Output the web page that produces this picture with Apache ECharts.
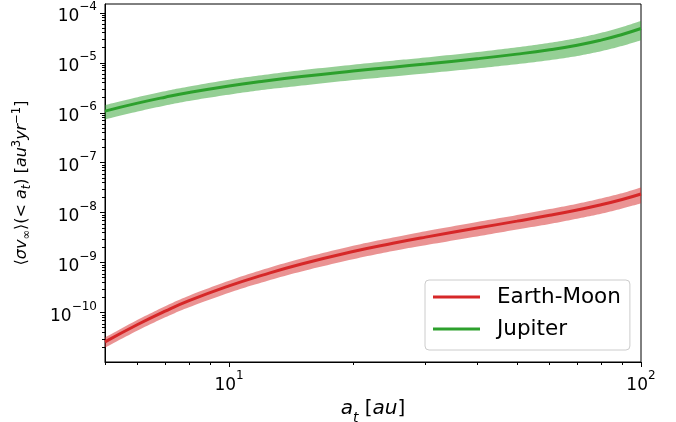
<!DOCTYPE html>
<html>
<head>
<meta charset="utf-8">
<script src="https://cdn.jsdelivr.net/npm/echarts@6/dist/echarts.min.js"></script>
<style>
  html, body { margin: 0; padding: 0; background: #fff; }
  #chart { width: 676px; height: 422px; }
</style>
</head>
<body>
<div id="chart"></div>
<script>
// Semi-major axis grid a_t [au]
const semiMajor = [5, 6, 7, 8, 10, 12, 15, 20, 25, 30, 40, 50, 60, 70, 80, 90, 100];

// Earth-Moon: mean rate and its 1-sigma envelope [au^3 / yr]
const earthMoonMean = [2.60e-11, 5.79e-11, 1.074e-10, 1.738e-10, 3.436e-10, 5.57e-10, 9.42e-10, 1.675e-9, 2.449e-9, 3.25e-9, 4.93e-9, 6.78e-9, 8.87e-9, 1.135e-8, 1.442e-8, 1.837e-8, 2.366e-8];
const earthMoonLow  = [2.00e-11, 4.40e-11, 8.06e-11, 1.286e-10, 2.508e-10, 4.01e-10, 6.69e-10, 1.173e-9, 1.714e-9, 2.243e-9, 3.35e-9, 4.61e-9, 5.94e-9, 7.60e-9, 9.52e-9, 1.212e-8, 1.538e-8];
const earthMoonHigh = [3.20e-11, 7.18e-11, 1.343e-10, 2.19e-10, 4.364e-10, 7.13e-10, 1.215e-9, 2.178e-9, 3.184e-9, 4.258e-9, 6.51e-9, 8.95e-9, 1.18e-8, 1.51e-8, 1.932e-8, 2.462e-8, 3.194e-8];

// Jupiter: mean rate and its 1-sigma envelope [au^3 / yr]
const jupiterMean = [1.08e-6, 1.556e-6, 2.05e-6, 2.54e-6, 3.44e-6, 4.24e-6, 5.30e-6, 6.82e-6, 8.17e-6, 9.44e-6, 1.205e-5, 1.49e-5, 1.82e-5, 2.24e-5, 2.84e-5, 3.69e-5, 4.85e-5];
const jupiterLow  = [0.734e-6, 1.058e-6, 1.394e-6, 1.727e-6, 2.305e-6, 2.841e-6, 3.498e-6, 4.501e-6, 5.31e-6, 6.136e-6, 7.71e-6, 9.39e-6, 1.128e-5, 1.366e-5, 1.704e-5, 2.177e-5, 2.813e-5];
const jupiterHigh = [1.426e-6, 2.054e-6, 2.706e-6, 3.353e-6, 4.575e-6, 5.639e-6, 7.102e-6, 9.139e-6, 1.103e-5, 1.274e-5, 1.639e-5, 2.041e-5, 2.512e-5, 3.114e-5, 3.976e-5, 5.203e-5, 6.887e-5];

// Axis ticks
const xMajorTicks = [10, 100];
const xMinorTicks = [5, 6, 7, 8, 9, 20, 30, 40, 50, 60, 70, 80, 90];
const yMajorTicks = [1e-10, 1e-9, 1e-8, 1e-7, 1e-6, 1e-5, 1e-4];
const yMinorTicks = [];
for (let e = -11; e <= -4; e++) {
  for (let m = 2; m <= 9; m++) yMinorTicks.push(m * Math.pow(10, e));
}

const xRange = [5, 100];
const yRange = [1.03e-11, 1.5e-4];

const RED = '#d62728';
const GREEN = '#2ca02c';
const FONT = 'DejaVu Sans';

const pairs = (ys) => semiMajor.map((x, i) => [x, ys[i]]);

function powerLabel(value) {
  const e = Math.round(Math.log10(value));
  const s = e < 0 ? '\u2212' + Math.abs(e) : String(e);
  return '{b|10}{s|' + s + '}';
}

const tickRich = {
  b: { fontFamily: FONT, fontSize: 17, color: '#000', verticalAlign: 'bottom', lineHeight: 24 },
  s: { fontFamily: FONT, fontSize: 12, color: '#000', verticalAlign: 'top', lineHeight: 24 }
};

// Catmull-Rom curve through projected pixel points, used for the envelope outline
function smoothOutline(pts, steps) {
  const out = [];
  const n = pts.length;
  for (let i = 0; i < n - 1; i++) {
    const p0 = pts[Math.max(i - 1, 0)];
    const p1 = pts[i];
    const p2 = pts[i + 1];
    const p3 = pts[Math.min(i + 2, n - 1)];
    for (let s = 0; s < steps; s++) {
      const t = s / steps, t2 = t * t, t3 = t2 * t;
      const f = (a, b, c, d) => 0.5 * ((2 * b) + (-a + c) * t + (2 * a - 5 * b + 4 * c - d) * t2 + (-a + 3 * b - 3 * c + d) * t3);
      out.push([f(p0[0], p1[0], p2[0], p3[0]), f(p0[1], p1[1], p2[1], p3[1])]);
    }
  }
  out.push(pts[n - 1]);
  return out;
}

// Shaded envelope between the low and high curves, projected through the axes
function bandSeries(lo, hi, color) {
  return {
    type: 'custom',
    silent: true,
    clip: true,
    z: 1,
    data: [0],
    renderItem: function (params, api) {
      const upper = smoothOutline(semiMajor.map((x, i) => api.coord([x, hi[i]])), 12);
      const lower = smoothOutline(semiMajor.map((x, i) => api.coord([x, lo[i]])), 12).reverse();
      return {
        type: 'polygon',
        shape: { points: upper.concat(lower) },
        style: { fill: color, stroke: 'none' }
      };
    }
  };
}

const chart = echarts.init(document.getElementById('chart'), null, { renderer: 'canvas' });

chart.setOption({
  animation: false,
  backgroundColor: '#fff',
  grid: {
    left: 105, right: 35, top: 4, bottom: 60,
    outerBoundsMode: 'none', containLabel: false,
    show: true, borderColor: '#000', borderWidth: 1, backgroundColor: 'transparent'
  },
  legend: {
    data: ['Earth-Moon', 'Jupiter'],
    orient: 'vertical',
    left: 425, top: 280,
    icon: 'rect', itemWidth: 47, itemHeight: 3, itemGap: 10,
    padding: [6, 9, 10, 8],
    borderColor: '#cccccc', borderWidth: 1, borderRadius: 4,
    backgroundColor: 'rgba(255,255,255,0.8)',
    textStyle: { fontFamily: FONT, fontSize: 21.5, color: '#000', lineHeight: 22, padding: [0, 0, 0, 12] }
  },
  xAxis: [
    {
      type: 'log', logBase: 10, min: xRange[0], max: xRange[1],
      name: '{i|a}{sub|t}{n| [}{i|au}{n|]}',
      nameLocation: 'middle', nameGap: 36,
      nameTextStyle: {
        rich: {
          i: { fontFamily: FONT, fontStyle: 'italic', fontSize: 20, color: '#000', verticalAlign: 'top', lineHeight: 26 },
          n: { fontFamily: FONT, fontSize: 20, color: '#000', verticalAlign: 'top', lineHeight: 26 },
          sub: { fontFamily: FONT, fontStyle: 'italic', fontSize: 14, color: '#000', verticalAlign: 'bottom', lineHeight: 24 }
        }
      },
      axisLine: { show: true, lineStyle: { color: '#000', width: 1 } },
      axisTick: { show: true, customValues: xMajorTicks, length: 5, lineStyle: { color: '#000', width: 1 } },
      axisLabel: { show: true, customValues: xMajorTicks, margin: 8, formatter: powerLabel, rich: tickRich },
      splitLine: { show: false },
      minorTick: { show: false }
    },
    {
      type: 'log', logBase: 10, min: xRange[0], max: xRange[1], position: 'bottom',
      axisLine: { show: false },
      axisTick: { show: true, customValues: xMinorTicks, length: 3, lineStyle: { color: '#000', width: 1 } },
      axisLabel: { show: false },
      splitLine: { show: false }
    }
  ],
  yAxis: [
    {
      type: 'log', logBase: 10, min: yRange[0], max: yRange[1],
      name: '{n|\u27E8}{i|\u03C3v}{sub|\u221E}{n|\u27E9(< }{i|a}{sub|t}{n|) [}{i|au}{sup|3}{i|yr}{sup|\u22121}{n|]}',
      nameLocation: 'middle', nameGap: 72, nameRotate: 90,
      nameTextStyle: {
        rich: {
          i: { fontFamily: FONT, fontStyle: 'italic', fontSize: 16, color: '#000', verticalAlign: 'middle', lineHeight: 22 },
          n: { fontFamily: FONT, fontSize: 16, color: '#000', verticalAlign: 'middle', lineHeight: 22 },
          sub: { fontFamily: FONT, fontStyle: 'italic', fontSize: 11.5, color: '#000', verticalAlign: 'bottom', lineHeight: 22 },
          sup: { fontFamily: FONT, fontSize: 11.5, color: '#000', verticalAlign: 'top', lineHeight: 22 }
        }
      },
      axisLine: { show: true, lineStyle: { color: '#000', width: 1 } },
      axisTick: { show: true, customValues: yMajorTicks, length: 5, lineStyle: { color: '#000', width: 1 } },
      axisLabel: { show: true, customValues: yMajorTicks, margin: 8, formatter: powerLabel, rich: tickRich },
      splitLine: { show: false },
      minorTick: { show: false }
    },
    {
      type: 'log', logBase: 10, min: yRange[0], max: yRange[1], position: 'left',
      axisLine: { show: false },
      axisTick: { show: true, customValues: yMinorTicks, length: 3, lineStyle: { color: '#000', width: 1 } },
      axisLabel: { show: false },
      splitLine: { show: false }
    }
  ],
  series: [
    bandSeries(earthMoonLow, earthMoonHigh, 'rgba(214,39,40,0.5)'),
    bandSeries(jupiterLow, jupiterHigh, 'rgba(44,160,44,0.5)'),
    {
      type: 'line', name: 'Earth-Moon', data: pairs(earthMoonMean), smooth: true,
      symbol: 'none', color: RED, lineStyle: { color: RED, width: 3 }, z: 3
    },
    {
      type: 'line', name: 'Jupiter', data: pairs(jupiterMean), smooth: true,
      symbol: 'none', color: GREEN, lineStyle: { color: GREEN, width: 3 }, z: 3
    }
  ]
});
</script>
</body>
</html>
